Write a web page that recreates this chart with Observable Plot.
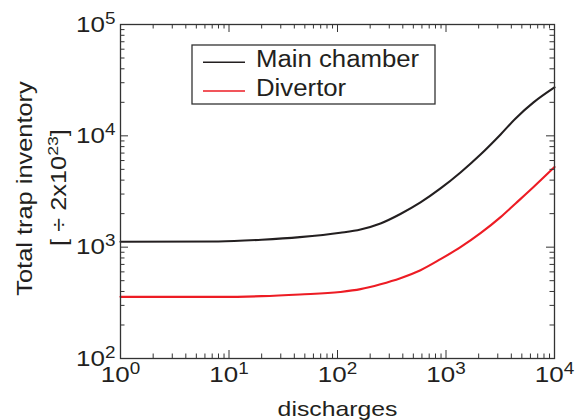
<!DOCTYPE html>
<html><head><meta charset="utf-8">
<script src="https://cdn.jsdelivr.net/npm/d3@7"></script>
<script src="https://cdn.jsdelivr.net/npm/@observablehq/plot@0.6"></script>
<style>body{margin:0;background:#fff;}</style>
</head><body><div id="chart"></div>
<script>
// ---- data ----
const discharges  = [1, 8, 20, 45, 106, 163, 249, 380, 582, 890, 1360, 2080, 3185, 4380, 6410, 10000];
const mainChamber = [1118, 1125, 1166, 1230, 1346, 1442, 1633, 1987, 2522, 3369, 4690, 6800, 10300, 14330, 19950, 27200];
const divertor    = [358, 358, 363, 376, 396, 420, 465, 527, 621, 780, 1000, 1336, 1862, 2470, 3470, 5240];
const seriesNames  = ["Main chamber", "Divertor"];
const seriesColors = ["#231f20", "#ed1c24"];
const xExponents = [0, 1, 2, 3, 4];
const yExponents = [2, 3, 4, 5];
const xTitle = "discharges";
const yTitle = ["Total trap inventory", "[ ÷ 2x10^23]"];

// ---- derived ----
const W = 581, H = 420, mL = 120, mR = 27, mT = 24, mB = 62;
const plotW = W - mL - mR, plotH = H - mT - mB;
const xMajor = xExponents.map(e => 10 ** e);
const yMajor = yExponents.map(e => 10 ** e);
const xMinor = d3.scaleLog().domain([xMajor[0], xMajor[xMajor.length-1]]).ticks().filter(v => !xMajor.includes(v));
const yMinor = d3.scaleLog().domain([yMajor[0], yMajor[yMajor.length-1]]).ticks().filter(v => !yMajor.includes(v));
const rows = discharges.flatMap((x, i) => [
  {x, y: mainChamber[i], s: seriesNames[0]},
  {x, y: divertor[i], s: seriesNames[1]}
]);
const fmt = d => "10^" + Math.round(Math.log10(d));
const ink = "#231f20", axisInk = "#333";
const FONT = "'Liberation Sans', Arial, Helvetica, sans-serif";

const chart = Plot.plot({
  width: W, height: H,
  marginLeft: mL, marginRight: mR, marginTop: mT, marginBottom: mB,
  style: {fontFamily: FONT, color: ink, background: "#fff"},
  x: {type: "log", domain: [xMajor[0], xMajor[xMajor.length-1]]},
  y: {type: "log", domain: [yMajor[0], yMajor[yMajor.length-1]]},
  color: {domain: seriesNames, range: seriesColors},
  marks: [
    Plot.line(rows, {x: "x", y: "y", z: "s", stroke: "s", strokeWidth: 2.1, curve: "monotone-x"}),
    Plot.frame({stroke: axisInk, strokeWidth: 1.3}),
    Plot.tickX(xMajor, {x: d => d, insetTop: plotH - 8, stroke: axisInk}),
    Plot.tickX(xMajor, {x: d => d, insetBottom: plotH - 8, stroke: axisInk}),
    Plot.tickX(xMinor, {x: d => d, insetTop: plotH - 4.5, stroke: axisInk}),
    Plot.tickX(xMinor, {x: d => d, insetBottom: plotH - 4.5, stroke: axisInk}),
    Plot.tickY(yMajor, {y: d => d, insetRight: plotW - 8, stroke: axisInk}),
    Plot.tickY(yMajor, {y: d => d, insetLeft: plotW - 8, stroke: axisInk}),
    Plot.tickY(yMinor, {y: d => d, insetRight: plotW - 4.5, stroke: axisInk}),
    Plot.tickY(yMinor, {y: d => d, insetLeft: plotW - 4.5, stroke: axisInk}),
    Plot.axisX(xMajor, {tickSize: 0, tickPadding: 8, tickFormat: fmt, fontSize: 22, label: null}),
    Plot.axisY(yMajor, {tickSize: 0, tickPadding: 5, tickFormat: fmt, fontSize: 22, label: null}),
    Plot.text([xTitle], {text: d => d, frameAnchor: "bottom", textAnchor: "middle", lineAnchor: "middle", dy: 51, fontSize: 21}),
    Plot.text([yTitle[0]], {text: d => d, frameAnchor: "left", textAnchor: "middle", lineAnchor: "middle", rotate: -90, dx: -95, dy: -3, fontSize: 21.5}),
    Plot.text([yTitle[1]], {text: d => d, frameAnchor: "left", textAnchor: "middle", lineAnchor: "middle", rotate: -90, dx: -61, dy: -4, fontSize: 21.5})
  ]
});

// legend (drawn into the same svg)
const svg = d3.select(chart);
const lg = svg.append("g").attr("font-family", FONT).attr("fill", ink).attr("text-anchor", "start");
lg.append("rect").attr("x", 192).attr("y", 45).attr("width", 243).attr("height", 59)
  .attr("fill", "#fff").attr("stroke", axisInk).attr("stroke-width", 1.3);
seriesNames.forEach((name, i) => {
  const yLine = [62.3, 91][i], yText = [67.3, 96.3][i];
  lg.append("line").attr("x1", 203).attr("x2", 245).attr("y1", yLine).attr("y2", yLine)
    .attr("stroke", seriesColors[i]).attr("stroke-width", 1.6);
  lg.append("text").attr("class", "lgtext").attr("x", 256).attr("y", yText)
    .attr("font-size", 23).text(name);
});

document.getElementById("chart").appendChild(chart);

// superscripts and horizontal glyph widening (as in the reference's wide type)
const ns = "http://www.w3.org/2000/svg";
chart.querySelectorAll("text").forEach(t => {
  const m = /^(.*?)\^(\d+)(.*)$/.exec(t.textContent);
  if (m) {
    const fs = parseFloat(getComputedStyle(t).fontSize) || 22;
    const sup = Math.round(fs * 0.72), lift = Math.round(fs * 0.37);
    t.textContent = m[1];
    const ts = document.createElementNS(ns, "tspan");
    ts.setAttribute("dy", -lift); ts.setAttribute("font-size", sup); ts.textContent = m[2];
    t.appendChild(ts);
    if (m[3]) {
      const r = document.createElementNS(ns, "tspan");
      r.setAttribute("dy", lift); r.setAttribute("font-size", fs); r.textContent = m[3];
      t.appendChild(r);
    }
  }
  const k = t.classList.contains("lgtext") ? 1.12 : 1.18;
  const anchor = getComputedStyle(t).textAnchor;
  const L = t.getComputedTextLength();
  if (L > 0) {
    const nL = L * k;
    t.setAttribute("textLength", nL.toFixed(1));
    t.setAttribute("lengthAdjust", "spacingAndGlyphs");
    if (anchor === "middle" || anchor === "end") {
      const x0 = +(t.getAttribute("x") || 0);
      t.setAttribute("text-anchor", "start");
      t.setAttribute("x", (x0 - (anchor === "middle" ? nL / 2 : nL)).toFixed(1));
    }
  }
});
</script>
</body></html>
